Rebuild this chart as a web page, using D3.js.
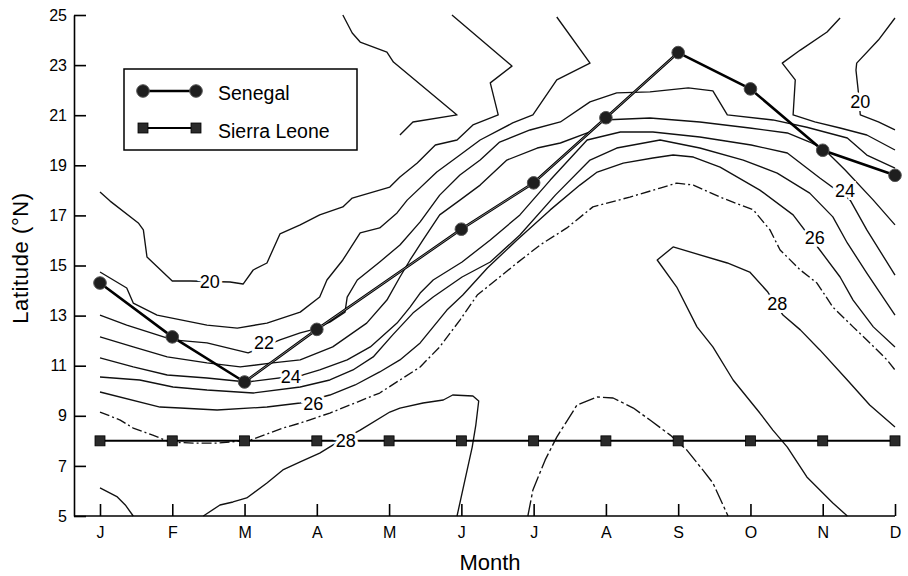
<!DOCTYPE html>
<html><head><meta charset="utf-8">
<script src="https://cdn.jsdelivr.net/npm/d3@7"></script>
<style>body{margin:0;background:#fff}svg{display:block}</style>
</head><body>
<svg id="chart" width="908" height="576"></svg>
<script>
// ---- data ----
const months = ["J","F","M","A","M","J","J","A","S","O","N","D"];
const yTicks = [5,7,9,11,13,15,17,19,21,23,25];
// latitude of the front per month (null = not plotted)
const senegal = [14.3,12.15,10.35,12.45,null,16.45,18.3,20.9,23.5,22.05,19.6,18.6];
const sierraLeone = [8,8,8,8,8,8,8,8,8,8,8,8];

// isotherm traces: [month index, latitude]
const c20 = [[0,17.93],[0.14,17.57],[0.53,16.70],[0.60,16.42],[0.65,15.34],[1.00,14.38],[1.25,14.38],[1.80,14.34],[1.98,14.26],[2.12,14.82],[2.31,15.10],[2.49,16.26],[2.77,16.62],[3.04,17.02],[3.36,17.34],[3.49,17.69],[4.01,18.13],[4.15,18.53],[4.39,19.09],[4.64,19.81],[4.94,20.01],[5.16,20.61],[5.51,21.01],[5.40,22.29],[5.70,22.96],[4.87,25.0]];
const c20b = [[3.36,25.0],[3.49,24.28],[3.60,23.92],[3.97,23.52],[4.06,23.12],[4.94,21.01],[4.33,20.73],[4.15,20.21]];
const c20r = [[11.0,24.88],[10.77,24.0],[10.47,23.08],[10.46,22.80],[10.49,22.01],[10.52,21.01],[10.77,20.73],[11.0,20.41]];
const c21 = [[0,14.74],[0.37,14.10],[0.46,13.50],[0.79,13.02],[1.48,12.62],[1.90,12.50],[2.31,12.70],[2.77,13.14],[3.04,13.74],[3.14,14.42],[3.36,15.22],[3.60,16.30],[3.87,16.50],[4.11,17.10],[4.25,17.61],[4.66,18.73],[4.98,19.41],[5.26,20.01],[5.71,20.69],[5.99,21.01],[6.32,22.41],[6.78,23.08],[6.32,24.92]];
const c21r = [[10.24,24.88],[10.06,24.32],[9.69,23.60],[9.44,23.08],[9.62,22.41],[9.59,21.01],[9.89,20.73],[10.24,20.49],[10.61,20.21],[11.0,19.61]];
const c22 = [[0,13.02],[0.37,12.62],[1.01,12.03],[1.48,11.91],[2.05,11.51],[2.49,12.03],[2.77,12.31],[2.93,12.43],[3.18,12.74],[3.39,13.14],[3.42,13.74],[3.56,14.42],[3.87,15.14],[4.15,15.82],[4.43,16.74],[4.70,17.81],[4.98,18.61],[5.26,19.21],[5.53,19.93],[5.95,20.41],[6.37,20.73],[6.78,21.53],[7.15,21.89],[7.61,21.93],[8.14,22.09],[8.48,21.97],[8.68,21.01],[9.31,20.81],[9.78,20.52],[10.34,20.09],[10.61,19.41],[11.0,18.89]];
const c23 = [[0,12.15],[0.46,11.75],[0.93,11.35],[1.48,11.11],[1.94,10.95],[2.39,11.11],[2.77,11.23],[3.22,11.75],[3.69,12.70],[3.97,13.62],[4.15,14.54],[4.29,15.22],[4.47,16.02],[4.70,17.02],[4.98,17.61],[5.26,18.21],[5.63,19.21],[6.05,19.69],[6.37,19.89],[6.78,20.33],[6.96,20.81],[7.61,20.89],[8.30,20.73],[8.99,20.49],[9.51,20.29],[9.82,19.93],[10.03,19.61],[10.31,18.81],[10.70,17.61],[11.0,16.62]];
const c24 = [[0,11.31],[0.46,10.95],[0.93,10.63],[1.48,10.51],[2.03,10.35],[2.81,10.63],[3.04,10.83],[3.42,11.23],[3.74,11.75],[4.11,12.70],[4.29,13.34],[4.43,13.90],[4.61,14.42],[5.01,15.14],[5.40,16.02],[5.81,17.02],[6.23,18.41],[6.74,20.01],[7.20,20.33],[7.65,20.33],[8.30,20.13],[9.01,19.81],[9.51,19.49],[9.96,18.49],[10.38,17.61],[10.61,16.42],[11.0,14.62]];
const c25 = [[0,10.55],[0.55,10.43],[1.01,10.15],[1.48,10.03],[2.12,9.91],[2.77,10.15],[3.18,10.43],[3.50,10.83],[3.78,11.35],[4.05,12.23],[4.33,13.10],[4.61,13.74],[5.01,14.54],[5.40,15.14],[5.81,16.22],[6.30,17.81],[6.78,19.21],[7.15,19.69],[7.75,20.01],[8.30,19.69],[8.90,19.21],[9.37,18.69],[9.82,17.89],[10.14,16.94],[10.34,15.90],[10.61,14.70],[11.0,13.02]];
const c26 = [[0,9.95],[0.83,9.35],[1.11,9.31],[1.62,9.23],[2.31,9.35],[2.77,9.51],[3.18,9.83],[3.53,10.23],[3.87,10.75],[4.15,11.23],[4.43,11.91],[4.80,13.22],[5.02,13.82],[5.36,14.90],[5.77,16.02],[6.23,17.22],[6.64,18.21],[6.88,18.73],[7.24,19.09],[7.65,19.29],[7.93,19.41],[8.21,19.33],[8.58,18.93],[9.13,18.01],[9.59,17.02],[9.96,15.62],[10.24,14.54],[10.42,13.62],[10.70,12.55],[11.0,11.75]];
const c27 = [[0,9.15],[0.28,8.83],[0.46,8.51],[0.73,8.23],[0.97,7.95],[1.29,7.91],[1.62,7.91],[2.08,8.03],[2.53,8.51],[2.77,8.71],[3.18,9.11],[3.56,9.55],[3.87,9.91],[4.15,10.43],[4.43,10.95],[4.70,11.75],[4.98,12.82],[5.22,13.82],[5.53,14.54],[5.77,15.10],[6.09,15.82],[6.46,16.50],[6.82,17.34],[7.33,17.73],[7.75,18.09],[7.98,18.29],[8.21,18.21],[8.58,17.73],[9.04,17.22],[9.27,16.42],[9.41,15.62],[9.69,14.82],[9.92,14.30],[10.14,13.34],[10.42,12.55],[10.61,12.03],[10.89,11.23],[11.0,10.83]];
const c28a = [[1.43,5.0],[1.66,5.44],[1.84,5.56],[2.03,5.72],[2.31,6.32],[2.53,6.84],[2.77,7.16],[3.04,7.51],[3.22,7.83],[3.60,8.43],[4.01,9.15],[4.15,9.31],[4.47,9.51],[4.75,9.63],[4.88,9.83],[5.16,9.79],[5.24,9.59],[5.20,8.63],[5.15,7.75],[5.05,6.44],[4.94,5.0]];
const c28b = [[0,6.12],[0.24,5.76],[0.35,5.44],[0.46,5.0]];
const c28c = [[5.92,5.0],[5.99,6.04],[6.16,7.24],[6.32,8.15],[6.60,9.43],[6.88,9.75],[7.10,9.71],[7.38,9.31],[7.61,8.83],[7.89,8.23],[8.12,7.63],[8.34,6.84],[8.48,6.32],[8.69,5.0]];
const c28d = [[11.0,8.55],[10.65,9.43],[10.34,10.43],[9.96,11.63],[9.69,12.43],[9.45,13.02],[9.24,13.94],[8.99,14.74],[8.68,15.10],[7.93,15.74],[7.71,15.22],[7.98,14.14],[8.26,12.55],[8.48,11.75],[8.76,10.43],[9.13,9.11],[9.31,8.43],[9.51,7.75],[9.78,6.56],[9.96,6.04],[10.14,5.52],[10.34,5.0]];

const contourLabelText = ["20","22","24","26","28","20","24","26","28"];
const contourLabelPos = [[1.52,14.38],[2.27,11.91],[2.64,10.55],[2.95,9.51],[3.40,8.03],[10.52,21.53],[10.31,18.01],[9.89,16.10],[9.37,13.50]];

// ---- layout ----
const svg = d3.select("#chart");
const x = d3.scaleLinear().domain([0,11]).range([100,895]);
const y = d3.scaleLinear().domain([5,25]).range([516,15]);
const FONT = "'Liberation Sans', Arial, sans-serif";
const axisX0 = 74;

const line = d3.line().x(d=>x(d[0])).y(d=>y(d[1]));

// contours
const contours = [
  {p:c20},{p:c20b},{p:c20r},{p:c21},{p:c21r},{p:c22},{p:c23},{p:c24},{p:c25},
  {p:c26},{p:c27,dash:"10,3,2,3"},{p:c28a},{p:c28b},{p:c28c,dash:"16,3,3,3"},{p:c28d}
];
const cg = svg.append("g");
contours.forEach(c=>{
  cg.append("path").attr("d", line(c.p)).attr("fill","none")
    .attr("stroke","#111").attr("stroke-width",1.35)
    .attr("stroke-linejoin","round")
    .attr("stroke-dasharray", c.dash || null);
});

// axes
const yAxis = d3.axisLeft(y).tickValues(yTicks).tickSize(-12).tickSizeOuter(0).tickPadding(7);
const gy = svg.append("g").attr("transform",`translate(${axisX0},0)`).call(yAxis);
gy.selectAll("text").attr("font-family",FONT).attr("font-size",16).attr("fill","#000");
gy.selectAll("line,path").attr("stroke","#000").attr("stroke-width",1.6);

const xAxis = d3.axisBottom(x).tickValues(d3.range(12)).tickFormat(i=>months[i]).tickSize(-12).tickSizeOuter(0).tickPadding(11);
const gx = svg.append("g").attr("transform",`translate(0,${y(5)})`).call(xAxis);
gx.select(".domain").remove();
gx.append("line").attr("x1",axisX0).attr("x2",x(11)).attr("y1",0).attr("y2",0);
gx.selectAll("text").attr("font-family",FONT).attr("font-size",16).attr("fill","#000");
gx.selectAll("line").attr("stroke","#000").attr("stroke-width",1.6);

svg.append("text").attr("x",490).attr("y",570).attr("text-anchor","middle")
  .attr("font-family",FONT).attr("font-size",22).text("Month");
svg.append("text").attr("transform","translate(28,258) rotate(-90)").attr("text-anchor","middle")
  .attr("font-family",FONT).attr("font-size",22).attr("letter-spacing",0.6).text("Latitude (°N)");

// series lines
const slData = sierraLeone.map((v,i)=>[i,v]);
const senData = senegal.map((v,i)=>[i,v]).filter(d=>d[1]!=null);
svg.append("path").attr("d",line(slData)).attr("fill","none").attr("stroke","#000").attr("stroke-width",2);
svg.append("path").attr("d",line(senData)).attr("fill","none").attr("stroke","#000").attr("stroke-width",2.6).attr("stroke-linejoin","round");
const mid = senData.filter(d=>d[0]>=2 && d[0]<=8);
svg.append("path").attr("d",line(mid)).attr("fill","none").attr("stroke","#8a8a8a").attr("stroke-width",0.9);

// contour labels with white halo (line breaks)
svg.append("g").selectAll("text").data(contourLabelText).join("text")
  .attr("x",(d,i)=>x(contourLabelPos[i][0])).attr("y",(d,i)=>y(contourLabelPos[i][1]))
  .attr("dy","0.36em").attr("text-anchor","middle")
  .attr("font-family",FONT).attr("font-size",18)
  .attr("stroke","#fff").attr("stroke-width",6).attr("paint-order","stroke")
  .attr("fill","#000").text(d=>d);

// markers
svg.append("g").selectAll("rect").data(slData).join("rect")
  .attr("x",d=>x(d[0])-5).attr("y",d=>y(d[1])-5).attr("width",10).attr("height",10)
  .attr("fill","#2a2a2a").attr("stroke","#000").attr("stroke-width",0.8);
svg.append("g").selectAll("circle").data(senData).join("circle")
  .attr("cx",d=>x(d[0])).attr("cy",d=>y(d[1])).attr("r",6.3)
  .attr("fill","#1e1e1e").attr("stroke","#555").attr("stroke-width",1);

// legend
const lg = svg.append("g");
lg.append("rect").attr("x",124).attr("y",69).attr("width",233).attr("height",81)
  .attr("fill","#fff").attr("stroke","#000").attr("stroke-width",1.5);
lg.append("line").attr("x1",143).attr("x2",196).attr("y1",91).attr("y2",91).attr("stroke","#000").attr("stroke-width",2.4);
[143,196].forEach(cx=>lg.append("circle").attr("cx",cx).attr("cy",91).attr("r",6.3).attr("fill","#1e1e1e").attr("stroke","#555"));
lg.append("line").attr("x1",143).attr("x2",196).attr("y1",128).attr("y2",128).attr("stroke","#000").attr("stroke-width",1.8);
[143,196].forEach(cx=>lg.append("rect").attr("x",cx-5).attr("y",123).attr("width",10).attr("height",10).attr("fill","#2a2a2a").attr("stroke","#000").attr("stroke-width",0.8));
lg.append("text").attr("x",218).attr("y",100).attr("font-family",FONT).attr("font-size",19.5).text("Senegal");
lg.append("text").attr("x",218).attr("y",138).attr("font-family",FONT).attr("font-size",19.5).text("Sierra Leone");
</script>
</body></html>
